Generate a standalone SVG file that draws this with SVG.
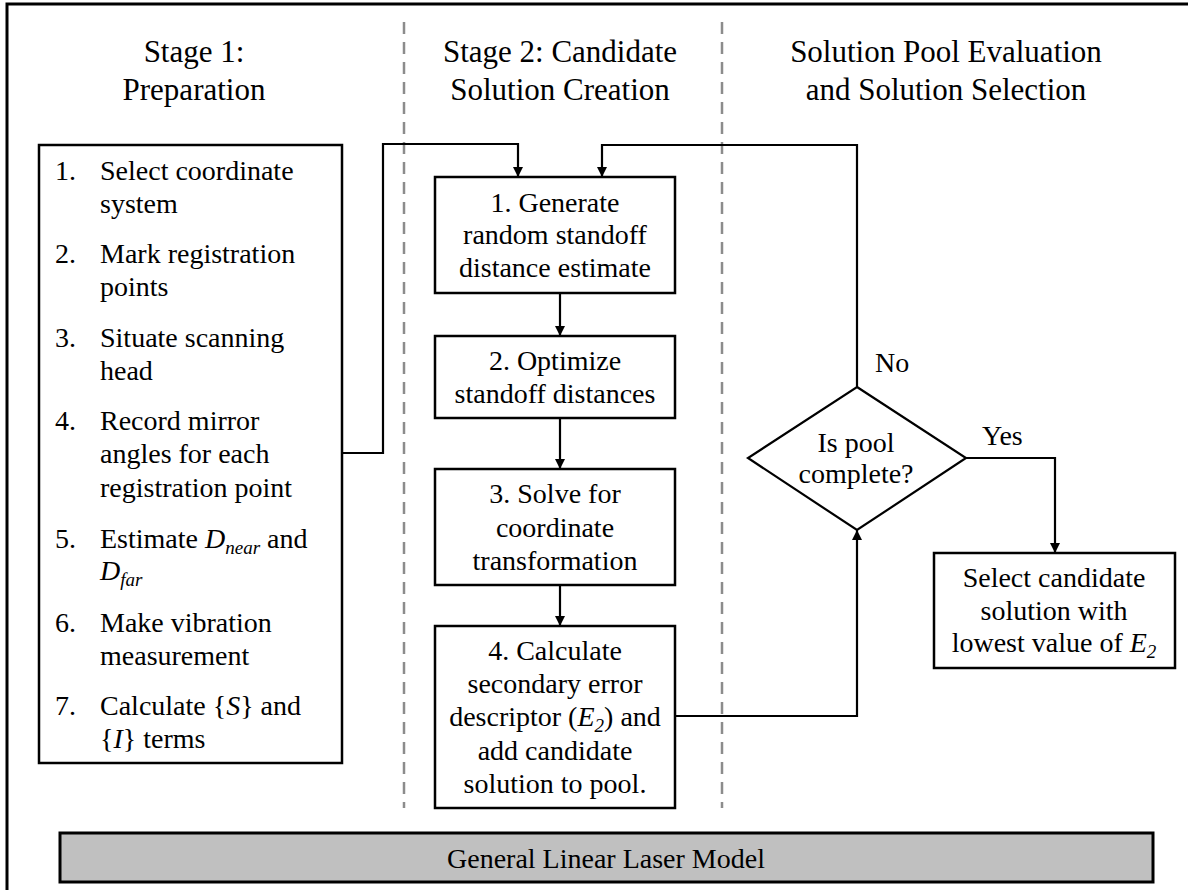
<svg xmlns="http://www.w3.org/2000/svg" width="1188" height="890" viewBox="0 0 1188 890">
<style>
text{font-family:"Liberation Serif","Times New Roman",serif;fill:#000}
.h{font-size:31px;text-anchor:middle}
.t{font-size:28px}
.c{font-size:28px;text-anchor:middle}
.box{fill:#fff;stroke:#000;stroke-width:2.5}
.con{fill:none;stroke:#000;stroke-width:2.2}
.dash{stroke:#8c8c8c;stroke-width:2.5;stroke-dasharray:12 8}
.i{font-style:italic}
.sub{font-size:19px;font-style:italic}
</style>
<defs>
<marker id="arr" markerUnits="userSpaceOnUse" markerWidth="11" markerHeight="11" refX="10" refY="5" orient="auto">
<path d="M0,0 L10,5 L0,10 z" fill="#000"/>
</marker>
</defs>
<rect width="1188" height="890" fill="#fff"/>
<rect id="frame" x="7" y="4" width="1200" height="900" fill="none" stroke="#000" stroke-width="3"/>

<g id="dividers">
<line class="dash" x1="404" y1="22" x2="404" y2="808"/>
<line class="dash" x1="722" y1="22" x2="722" y2="808"/>
</g>

<g id="headers">
<text class="h" x="194" y="62">Stage 1:</text>
<text class="h" x="194" y="100">Preparation</text>
<text class="h" x="560" y="62">Stage 2: Candidate</text>
<text class="h" x="560" y="100">Solution Creation</text>
<text class="h" x="946" y="62">Solution Pool Evaluation</text>
<text class="h" x="946" y="100">and Solution Selection</text>
</g>

<g id="connectors">
<path class="con" d="M342,453 H383 V144 H518 V177" marker-end="url(#arr)"/>
<path class="con" d="M857,387 V145 H602 V177" marker-end="url(#arr)"/>
<path class="con" d="M560,293 V336" marker-end="url(#arr)"/>
<path class="con" d="M560,418 V469" marker-end="url(#arr)"/>
<path class="con" d="M560,585 V626" marker-end="url(#arr)"/>
<path class="con" d="M675,716 H857 V530" marker-end="url(#arr)"/>
<path class="con" d="M966,458 H1055 V553" marker-end="url(#arr)"/>
<text class="t" x="875" y="372">No</text>
<text class="t" x="982" y="445">Yes</text>
</g>

<g id="prep">
<rect class="box" x="39" y="145" width="303" height="618"/>
<text class="t" x="55" y="180">1.</text>
<text class="t" x="100" y="180">Select coordinate</text>
<text class="t" x="100" y="213">system</text>
<text class="t" x="55" y="263">2.</text>
<text class="t" x="100" y="263">Mark registration</text>
<text class="t" x="100" y="296">points</text>
<text class="t" x="55" y="347">3.</text>
<text class="t" x="100" y="347">Situate scanning</text>
<text class="t" x="100" y="380">head</text>
<text class="t" x="55" y="430">4.</text>
<text class="t" x="100" y="430">Record mirror</text>
<text class="t" x="100" y="463">angles for each</text>
<text class="t" x="100" y="497">registration point</text>
<text class="t" x="55" y="548">5.</text>
<text class="t" x="100" y="548">Estimate <tspan class="i">D</tspan><tspan class="sub" dy="6">near</tspan><tspan dy="-6"> and</tspan></text>
<text class="t" x="100" y="580"><tspan class="i">D</tspan><tspan class="sub" dy="6">far</tspan></text>
<text class="t" x="55" y="632">6.</text>
<text class="t" x="100" y="632">Make vibration</text>
<text class="t" x="100" y="665">measurement</text>
<text class="t" x="55" y="715">7.</text>
<text class="t" x="100" y="715">Calculate {<tspan class="i">S</tspan>} and</text>
<text class="t" x="100" y="748">{<tspan class="i">I</tspan>} terms</text>
</g>

<g id="step1">
<rect class="box" x="435" y="177" width="240" height="116"/>
<text class="c" x="555" y="212">1. Generate</text>
<text class="c" x="555" y="244">random standoff</text>
<text class="c" x="555" y="277">distance estimate</text>
</g>

<g id="step2">
<rect class="box" x="435" y="336" width="240" height="82"/>
<text class="c" x="555" y="370">2. Optimize</text>
<text class="c" x="555" y="403">standoff distances</text>
</g>

<g id="step3">
<rect class="box" x="435" y="469" width="240" height="116"/>
<text class="c" x="555" y="503">3. Solve for</text>
<text class="c" x="555" y="537">coordinate</text>
<text class="c" x="555" y="570">transformation</text>
</g>

<g id="step4">
<rect class="box" x="435" y="626" width="240" height="182"/>
<text class="c" x="555" y="660">4. Calculate</text>
<text class="c" x="555" y="693">secondary error</text>
<text class="c" x="555" y="726">descriptor (<tspan class="i">E</tspan><tspan class="sub" dy="6">2</tspan><tspan dy="-6">) and</tspan></text>
<text class="c" x="555" y="760">add candidate</text>
<text class="c" x="555" y="793">solution to pool.</text>
</g>

<g id="decision">
<polygon points="857,387 966,458 857,530 748,458" fill="#fff" stroke="#000" stroke-width="2.2"/>
<text class="c" x="856" y="452">Is pool</text>
<text class="c" x="856" y="483">complete?</text>
</g>

<g id="select">
<rect class="box" x="934" y="553" width="241" height="115"/>
<text class="c" x="1054" y="587">Select candidate</text>
<text class="c" x="1054" y="620">solution with</text>
<text class="c" x="1054" y="652">lowest value of <tspan class="i">E</tspan><tspan class="sub" dy="6">2</tspan></text>
</g>

<g id="model">
<rect x="60" y="833" width="1093" height="49" fill="#c0c0c0" stroke="#000" stroke-width="3"/>
<text class="c" x="606" y="868">General Linear Laser Model</text>
</g>
</svg>
